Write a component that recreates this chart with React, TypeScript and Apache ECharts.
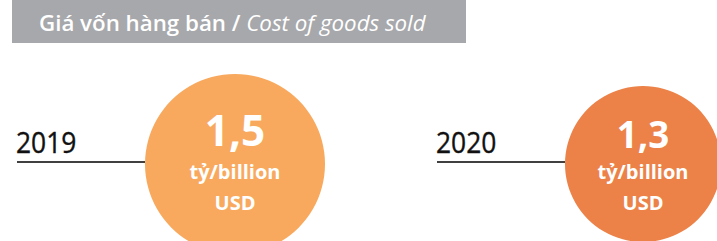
import React, { useEffect, useRef } from "react";
import * as echarts from "echarts";

const years = ["2019", "2020"];
const values = [1.5, 1.3];
const unitVi = "tỷ/billion";
const unitCur = "USD";
const titleVi = "Giá vốn hàng bán / ";
const titleEn = "Cost of goods sold";

const circleColors = ["#F8A95D", "#EC8248"];
const FONT = "'Open Sans', 'Noto Sans', sans-serif";

export default function App() {
  const ref = useRef<HTMLDivElement>(null);
  useEffect(() => {
    if (!ref.current) return;
    const chart = echarts.init(ref.current, null, { renderer: "svg" });
    chart.setOption({
      animation: false,
      backgroundColor: "#ffffff",
      grid: { left: 235, right: 74, top: 44, bottom: 77 },
      xAxis: { type: "category", data: years, boundaryGap: false, show: false },
      yAxis: { type: "value", min: 0, max: 1, show: false },
      graphic: [
        {
          type: "rect",
          shape: { x: 12, y: 0, width: 454, height: 43 },
          style: { fill: "#A7A8AB" },
          silent: true,
        },
        {
          type: "text",
          x: 39,
          y: 22,
          style: {
            text: "{a|" + titleVi + "}{b|" + titleEn + "}",
            verticalAlign: "middle",
            align: "left",
            rich: {
              a: { fontFamily: FONT, fontSize: 22.3, fontWeight: 600, fill: "#ffffff" },
              b: { fontFamily: FONT, fontSize: 22.3, fontStyle: "italic", fill: "#ffffff" },
            },
          },
        },
      ],
      series: [
        {
          type: "custom",
          clip: false,
          data: values.map((v, i) => [i, v]),
          renderItem: (params: any, api: any) => {
            const i = params.dataIndex;
            const v = api.value(1);
            const c = api.coord([api.value(0), 0]);
            const cx = c[0];
            const cy = c[1];
            const r = api.size([0, v])[1] / 2;
            const lineStart = cx - r - 128;
            const numSize = r * 0.47;
            return {
              type: "group",
              children: [
                {
                  type: "line",
                  shape: { x1: lineStart, y1: cy - 2, x2: cx - r, y2: cy - 2 },
                  style: { stroke: "#404040", lineWidth: 2 },
                },
                {
                  type: "text",
                  x: lineStart - 1,
                  y: cy - 8,
                  scaleX: 0.88,
                  style: {
                    text: years[i],
                    fontFamily: FONT,
                    fontSize: 30,
                    fill: "#111111",
                    align: "left",
                    verticalAlign: "bottom",
                    stroke: "#111111",
                    lineWidth: 0.4,
                  },
                },
                {
                  type: "circle",
                  shape: { cx, cy, r },
                  style: { fill: circleColors[i] },
                },
                {
                  type: "text",
                  x: cx,
                  y: cy - r * 0.38,
                  style: {
                    text: String(v).replace(".", ","),
                    fontFamily: FONT,
                    fontSize: numSize,
                    fontWeight: "bold",
                    fill: "#ffffff",
                    align: "center",
                    verticalAlign: "middle",
                  },
                },
                {
                  type: "text",
                  x: cx,
                  y: cy + 7,
                  style: {
                    text: unitVi,
                    fontFamily: FONT,
                    fontSize: 20,
                    fontWeight: "bold",
                    fill: "#ffffff",
                    align: "center",
                    verticalAlign: "middle",
                  },
                },
                {
                  type: "text",
                  x: cx,
                  y: cy + 38,
                  style: {
                    text: unitCur,
                    fontFamily: FONT,
                    fontSize: 20,
                    fontWeight: "bold",
                    fill: "#ffffff",
                    align: "center",
                    verticalAlign: "middle",
                  },
                },
              ],
            };
          },
        },
      ],
    });
    return () => chart.dispose();
  }, []);
  return <div ref={ref} style={{ width: 717, height: 241, position: "absolute", left: 0, top: 0 }} />;
}
